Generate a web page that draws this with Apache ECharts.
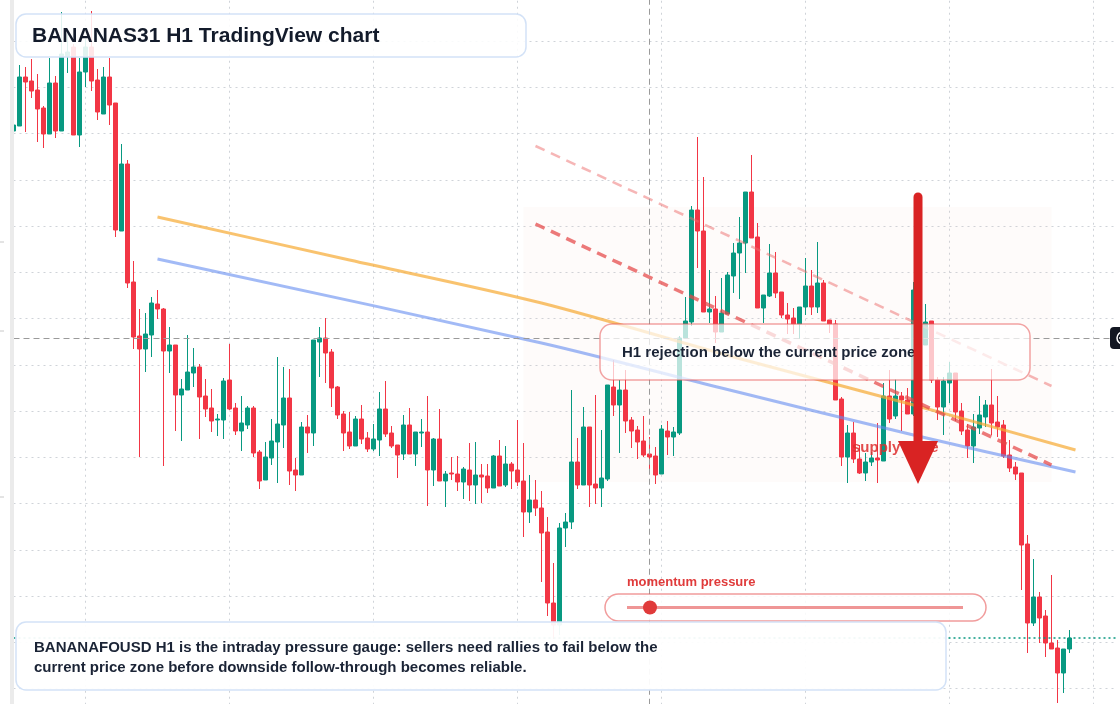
<!DOCTYPE html>
<html>
<head>
<meta charset="utf-8">
<title>BANANAS31 H1 TradingView chart</title>
<script src="https://cdn.jsdelivr.net/npm/echarts@6/dist/echarts.min.js"></script>
<style>
  html, body { margin: 0; padding: 0; background: #ffffff; }
  #chart { width: 1120px; height: 704px; }
</style>
</head>
<body>
<div id="chart"></div>
<script>
// hourly candles
var opens = [0.01198,0.01203,0.01252,0.01248,0.01239,0.01221,0.01195,0.01246,0.01198,0.01273,
  0.01282,0.01194,0.01257,0.01282,0.01249,0.01215,0.01252,0.01226,0.01098,0.01165,
  0.01047,0.00993,0.00980,0.00994,0.01025,0.01020,0.00978,0.00984,0.00934,0.00939,
  0.00956,0.00962,0.00933,0.00921,0.00909,0.00909,0.00949,0.00921,0.00898,0.00904,
  0.00921,0.00877,0.00849,0.00871,0.00887,0.00904,0.00931,0.00859,0.00854,0.00902,
  0.00896,0.00987,0.00991,0.00977,0.00942,0.00915,0.00897,0.00883,0.00910,0.00891,
  0.00880,0.00889,0.00920,0.00896,0.00884,0.00875,0.00904,0.00875,0.00896,0.00897,
  0.00859,0.00890,0.00848,0.00856,0.00855,0.00847,0.00859,0.00844,0.00854,0.00853,
  0.00841,0.00873,0.00844,0.00865,0.00859,0.00848,0.00817,0.00829,0.00821,0.00797,
  0.00726,0.00704,0.00801,0.00807,0.00867,0.00844,0.00902,0.00845,0.00841,0.00850,
  0.00942,0.00924,0.00939,0.00909,0.00899,0.00888,0.00875,0.00873,0.00855,0.00898,
  0.00892,0.00896,0.00991,0.01007,0.01119,0.01098,0.01017,0.01020,0.00997,0.01015,
  0.01053,0.01076,0.01086,0.01137,0.01092,0.01021,0.01033,0.01056,0.01037,0.01014,
  0.01011,0.01005,0.01022,0.01043,0.01022,0.01046,0.01009,0.01005,0.00930,0.00872,
  0.00896,0.00870,0.00856,0.00867,0.00871,0.00868,0.00933,0.00913,0.00933,0.00929,
  0.00915,0.01037,0.00984,0.01008,0.00949,0.00922,0.00946,0.00956,0.00918,0.00899,
  0.00883,0.00901,0.00912,0.00924,0.00907,0.00904,0.00874,0.00862,0.00856,0.00785,
  0.00706,0.00732,0.00713,0.00686,0.00681,0.00656,0.00680];

var closes = [0.01204,0.01252,0.01247,0.01238,0.01220,0.01195,0.01246,0.01198,0.01275,0.01277,
  0.01194,0.01257,0.01282,0.01248,0.01217,0.01252,0.01224,0.01099,0.01165,0.01046,
  0.00992,0.00980,0.00995,0.01026,0.01020,0.00978,0.00984,0.00934,0.00940,0.00957,
  0.00962,0.00932,0.00920,0.00908,0.00910,0.00948,0.00920,0.00898,0.00906,0.00921,
  0.00876,0.00848,0.00872,0.00888,0.00905,0.00931,0.00858,0.00854,0.00902,0.00896,
  0.00989,0.00991,0.00976,0.00941,0.00914,0.00896,0.00883,0.00910,0.00890,0.00880,
  0.00890,0.00920,0.00895,0.00883,0.00874,0.00904,0.00875,0.00897,0.00897,0.00859,
  0.00890,0.00848,0.00855,0.00855,0.00847,0.00860,0.00844,0.00854,0.00852,0.00841,
  0.00873,0.00843,0.00865,0.00858,0.00847,0.00817,0.00829,0.00821,0.00796,0.00726,
  0.00704,0.00801,0.00807,0.00867,0.00844,0.00902,0.00844,0.00841,0.00851,0.00944,
  0.00924,0.00939,0.00908,0.00898,0.00887,0.00874,0.00872,0.00854,0.00900,0.00892,
  0.00897,0.00991,0.01008,0.01119,0.01098,0.01017,0.01020,0.00997,0.01016,0.01054,
  0.01076,0.01086,0.01137,0.01091,0.01021,0.01034,0.01056,0.01036,0.01014,0.01010,
  0.01005,0.01022,0.01043,0.01022,0.01046,0.01008,0.01005,0.00929,0.00872,0.00896,
  0.00870,0.00856,0.00867,0.00871,0.00869,0.00933,0.00910,0.00933,0.00929,0.00915,
  0.01039,0.00984,0.01007,0.00949,0.00922,0.00948,0.00956,0.00917,0.00898,0.00883,
  0.00902,0.00914,0.00924,0.00906,0.00902,0.00873,0.00861,0.00855,0.00784,0.00706,
  0.00732,0.00711,0.00686,0.00680,0.00656,0.00680,0.00691];

var lows = [0.01196,0.01203,0.01197,0.01231,0.01187,0.01181,0.01195,0.01191,0.01198,0.01256,
  0.01194,0.01182,0.01242,0.01238,0.01209,0.01215,0.01204,0.01092,0.01098,0.01041,
  0.00980,0.00872,0.00957,0.00972,0.01010,0.00863,0.00956,0.00898,0.00888,0.00939,
  0.00942,0.00890,0.00912,0.00897,0.00893,0.00890,0.00919,0.00894,0.00878,0.00900,
  0.00872,0.00840,0.00849,0.00864,0.00846,0.00881,0.00844,0.00838,0.00854,0.00876,
  0.00883,0.00952,0.00946,0.00922,0.00910,0.00878,0.00880,0.00883,0.00885,0.00877,
  0.00878,0.00873,0.00892,0.00881,0.00851,0.00869,0.00875,0.00863,0.00882,0.00823,
  0.00843,0.00848,0.00822,0.00849,0.00838,0.00830,0.00828,0.00825,0.00826,0.00836,
  0.00841,0.00843,0.00842,0.00840,0.00843,0.00792,0.00806,0.00813,0.00747,0.00713,
  0.00690,0.00694,0.00782,0.00800,0.00840,0.00844,0.00822,0.00825,0.00822,0.00848,
  0.00913,0.00876,0.00896,0.00881,0.00870,0.00872,0.00860,0.00845,0.00855,0.00874,
  0.00873,0.00894,0.00991,0.01003,0.01061,0.01017,0.01006,0.00986,0.00997,0.01015,
  0.01036,0.01030,0.01056,0.01091,0.01021,0.01006,0.01032,0.01031,0.01011,0.00995,
  0.00995,0.00990,0.01014,0.01014,0.01016,0.01008,0.00996,0.00929,0.00863,0.00846,
  0.00866,0.00855,0.00848,0.00863,0.00846,0.00868,0.00906,0.00910,0.00898,0.00915,
  0.00913,0.00979,0.00984,0.00946,0.00909,0.00894,0.00926,0.00908,0.00894,0.00871,
  0.00866,0.00895,0.00902,0.00894,0.00892,0.00871,0.00857,0.00849,0.00739,0.00676,
  0.00703,0.00686,0.00672,0.00680,0.00626,0.00636,0.00676];

var highs = [0.01206,0.01264,0.01262,0.01270,0.01255,0.01223,0.01271,0.01253,0.01317,0.01295,
  0.01285,0.01271,0.01290,0.01318,0.01260,0.01262,0.01271,0.01226,0.01185,0.01169,
  0.01068,0.01020,0.01016,0.01032,0.01039,0.01021,0.01002,0.00984,0.00950,0.00994,
  0.00981,0.00965,0.00950,0.00940,0.00915,0.00951,0.00985,0.00926,0.00933,0.00923,
  0.00923,0.00879,0.00887,0.00910,0.00972,0.00962,0.00960,0.00871,0.00907,0.00914,
  0.00989,0.01002,0.01011,0.00980,0.00943,0.00918,0.00917,0.00913,0.00924,0.00897,
  0.00905,0.00937,0.00948,0.00903,0.00884,0.00914,0.00921,0.00897,0.00910,0.00933,
  0.00891,0.00920,0.00858,0.00872,0.00873,0.00862,0.00886,0.00887,0.00865,0.00865,
  0.00874,0.00889,0.00883,0.00867,0.00909,0.00886,0.00854,0.00849,0.00838,0.00812,
  0.00766,0.00806,0.00816,0.00939,0.00891,0.00922,0.00902,0.00934,0.00899,0.00944,
  0.00969,0.00949,0.00959,0.00912,0.00903,0.00913,0.00892,0.00882,0.00904,0.00908,
  0.00902,0.00993,0.01032,0.01123,0.01192,0.01152,0.01059,0.01033,0.01051,0.01057,
  0.01086,0.01112,0.01137,0.01174,0.01106,0.01034,0.01085,0.01077,0.01037,0.01026,
  0.01021,0.01022,0.01071,0.01059,0.01087,0.01049,0.01009,0.01009,0.00932,0.00904,
  0.00907,0.00884,0.00876,0.00877,0.00906,0.00946,0.00959,0.00950,0.00937,0.00941,
  0.01047,0.01044,0.01025,0.01008,0.00952,0.00952,0.00967,0.00956,0.00926,0.00905,
  0.00915,0.00933,0.00929,0.00960,0.00933,0.00909,0.00889,0.00867,0.00856,0.00794,
  0.00770,0.00737,0.00719,0.00754,0.00689,0.00680,0.00699];

// drawn levels
var lastPrice = 0.00691;
var crossPrice = 0.00991;
var crossBar = 106;
var zoneTop = 0.01122, zoneBottom = 0.00847, zoneFrom = 85, zoneTo = 173;
var emaSlow = [[24, 0.01112], [56, 0.01069], [88, 0.01026], [120, 0.00972], [150, 0.00924], [177, 0.00879]];
var emaFast = [[24, 0.01070], [88, 0.00986], [118, 0.00941], [150, 0.00894], [177, 0.00857]];
var resistLine = [[87, 0.01105], [173, 0.00864]];
var upperLine = [[87, 0.01183], [173, 0.00943]];

// hour slots (a few empty ones on the right)
var times = [];
for (var i = 0; i < 185; i++) {
  var d = Math.floor(i / 24) + 1, h = i % 24;
  times.push('D' + d + ' ' + (h < 10 ? '0' : '') + h + ':00');
}

var candles = opens.map(function (o, k) { return [o, closes[k], lows[k], highs[k]]; });

var up = '#089981', down = '#f23645';
var font = '"Liberation Sans", Arial, sans-serif';

var myChart = echarts.init(document.getElementById('chart'));
var option = {
  animation: false,
  grid: { left: 13.5, right: 2.5, top: -5.25, bottom: -30.75, outerBoundsMode: 'none', containLabel: false },
  xAxis: {
    type: 'category',
    data: times,
    boundaryGap: false,
    axisLine: { show: false },
    axisTick: { show: false },
    axisLabel: { show: false },
    splitLine: {
      show: true,
      interval: function (index) { return index % 24 === 12; },
      lineStyle: { color: '#cfd3d8', type: [2, 4], width: 1 }
    }
  },
  yAxis: [
    {
      type: 'value',
      min: 0.0059425,
      max: 0.0133425,
      show: false,
      splitLine: { show: false }
    },
    {
      // only for the dotted price grid
      type: 'value',
      min: 0,
      max: 16,
      interval: 1,
      axisLine: { show: false },
      axisTick: { show: false },
      axisLabel: { show: false },
      splitLine: { show: true, lineStyle: { color: '#cfd3d8', type: [2, 4], width: 1 } }
    }
  ],
  series: [
    {
      type: 'candlestick',
      data: candles,
      barWidth: 5,
      z: 3,
      itemStyle: {
        color: up,
        color0: down,
        borderColor: up,
        borderColor0: down,
        borderWidth: 1
      },
      markArea: {
        silent: true,
        itemStyle: { color: 'rgba(240,200,185,0.08)' },
        data: [[
          { xAxis: times[zoneFrom], yAxis: zoneTop },
          { xAxis: times[zoneTo], yAxis: zoneBottom }
        ]]
      },
      markLine: {
        silent: true,
        precision: 8,
        symbol: ['none', 'none'],
        label: { show: false },
        data: [
          { yAxis: lastPrice, lineStyle: { color: up, type: [2, 3], width: 1.5 } },
          { yAxis: crossPrice, lineStyle: { color: '#9a9a9a', type: [6, 4], width: 1 } },
          { xAxis: times[crossBar], lineStyle: { color: '#9a9a9a', type: [6, 4], width: 1 } }
        ]
      }
    },
    {
      type: 'line', data: emaSlow, smooth: 0.3, showSymbol: false, silent: true, z: 4,
      lineStyle: { color: 'rgba(246,170,50,0.7)', width: 3 }
    },
    {
      type: 'line', data: emaFast, smooth: 0.3, showSymbol: false, silent: true, z: 4,
      lineStyle: { color: 'rgba(100,140,240,0.6)', width: 3 }
    },
    {
      type: 'line', data: resistLine, showSymbol: false, silent: true, z: 4,
      lineStyle: { color: 'rgba(228,70,70,0.72)', width: 3.5, type: [10, 7] }
    },
    {
      type: 'line', data: upperLine, showSymbol: false, silent: true, z: 4,
      lineStyle: { color: 'rgba(238,110,110,0.5)', width: 2.5, type: [10, 7] }
    }
  ],
  graphic: {
    elements: [
      // left strip and price stubs
      { type: 'rect', z: 100, shape: { x: 10, y: 0, width: 4, height: 704 }, style: { fill: '#ebebeb' } },
      { type: 'line', z: 100, shape: { x1: 0, y1: 242, x2: 4, y2: 242 }, style: { stroke: '#c8c8c8', lineWidth: 1 } },
      { type: 'line', z: 100, shape: { x1: 0, y1: 331, x2: 4, y2: 331 }, style: { stroke: '#c8c8c8', lineWidth: 1 } },
      { type: 'line', z: 100, shape: { x1: 0, y1: 497, x2: 4, y2: 497 }, style: { stroke: '#c8c8c8', lineWidth: 1 } },
      // title
      {
        type: 'rect', z: 100,
        shape: { x: 16, y: 14, width: 510, height: 43, r: 10 },
        style: { fill: 'rgba(255,255,255,0.88)', stroke: '#d3e2f7', lineWidth: 1.5 }
      },
      {
        type: 'text', z: 101,
        style: { x: 32, y: 36, text: 'BANANAS31 H1 TradingView chart', font: 'bold 21px ' + font, fill: '#131b2b', verticalAlign: 'middle' }
      },
      // rejection note
      {
        type: 'rect', z: 100,
        shape: { x: 600, y: 324, width: 430, height: 56, r: 12 },
        style: { fill: 'rgba(255,255,255,0.72)', stroke: 'rgba(232,90,90,0.55)', lineWidth: 1.5 }
      },
      {
        type: 'text', z: 101,
        style: { x: 622, y: 353, text: 'H1 rejection below the current price zone', font: 'bold 15px ' + font, fill: '#1b2436', verticalAlign: 'middle' }
      },
      // supply zone tag + arrow
      {
        type: 'text', z: 101,
        style: { x: 852, y: 448, text: 'supply zone', font: 'bold 15px ' + font, fill: 'rgba(222,45,45,0.85)', verticalAlign: 'middle' }
      },
      {
        type: 'line', z: 110,
        shape: { x1: 918, y1: 197, x2: 918, y2: 446 },
        style: { stroke: '#d92323', lineWidth: 9, lineCap: 'round' }
      },
      {
        type: 'polygon', z: 110,
        shape: { points: [[898, 441], [938, 441], [918, 484]] },
        style: { fill: '#d92323' }
      },
      // momentum gauge
      {
        type: 'text', z: 101,
        style: { x: 627, y: 582, text: 'momentum pressure', font: '600 13px ' + font, fill: '#e03b3b', verticalAlign: 'middle' }
      },
      {
        type: 'rect', z: 100,
        shape: { x: 605, y: 594, width: 381, height: 27, r: 13.5 },
        style: { fill: 'rgba(255,255,255,0.85)', stroke: 'rgba(232,90,90,0.6)', lineWidth: 1.5 }
      },
      {
        type: 'line', z: 101,
        shape: { x1: 627, y1: 607.5, x2: 963, y2: 607.5 },
        style: { stroke: 'rgba(228,80,80,0.6)', lineWidth: 3 }
      },
      { type: 'circle', z: 102, shape: { cx: 650, cy: 607.5, r: 7 }, style: { fill: '#e03a3a' } },
      // bottom note
      {
        type: 'rect', z: 100,
        shape: { x: 16, y: 622, width: 930, height: 68, r: 10 },
        style: { fill: 'rgba(255,255,255,0.94)', stroke: '#d3e2f7', lineWidth: 1.5 }
      },
      {
        type: 'text', z: 101,
        style: { x: 34, y: 648, text: 'BANANAFOUSD H1 is the intraday pressure gauge: sellers need rallies to fail below the', font: 'bold 15px ' + font, fill: '#1b2436', verticalAlign: 'middle' }
      },
      {
        type: 'text', z: 101,
        style: { x: 34, y: 668, text: 'current price zone before downside follow-through becomes reliable.', font: 'bold 15px ' + font, fill: '#1b2436', verticalAlign: 'middle' }
      },
      // crosshair button on the right edge
      {
        type: 'rect', z: 100,
        shape: { x: 1110, y: 327, width: 22, height: 22, r: 4 },
        style: { fill: '#131722' }
      },
      { type: 'circle', z: 101, shape: { cx: 1123, cy: 338, r: 6 }, style: { fill: 'none', stroke: '#ffffff', lineWidth: 1.5 } },
      { type: 'line', z: 101, shape: { x1: 1119, y1: 338, x2: 1127, y2: 338 }, style: { stroke: '#ffffff', lineWidth: 1.5 } }
    ]
  }
};
myChart.setOption(option);
</script>
</body>
</html>
